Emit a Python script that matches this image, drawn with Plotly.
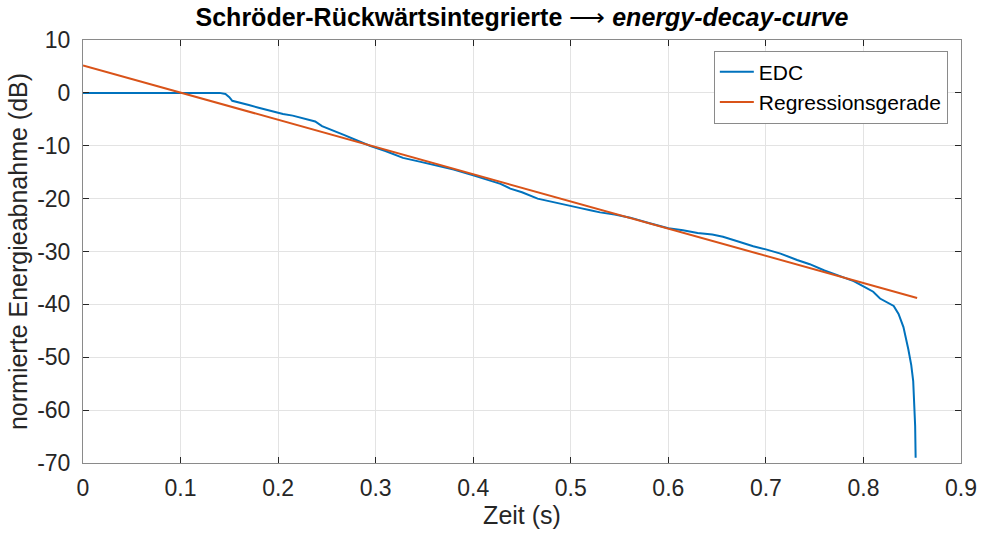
import plotly.graph_objects as go

# Schröder backward-integrated energy decay curve (EDC)
t_edc = [0, 0.140, 0.146, 0.150, 0.153, 0.160, 0.170, 0.180, 0.195, 0.205, 0.215,
         0.230, 0.238, 0.245, 0.255, 0.268, 0.281, 0.294, 0.310, 0.328, 0.345,
         0.360, 0.380, 0.400, 0.415, 0.428, 0.438, 0.450, 0.466, 0.480, 0.500,
         0.510, 0.520, 0.530, 0.545, 0.561, 0.580, 0.600, 0.615, 0.630, 0.645,
         0.656, 0.670, 0.687, 0.700, 0.715, 0.732, 0.745, 0.760, 0.775, 0.790,
         0.800, 0.810, 0.817, 0.824, 0.831, 0.836, 0.841, 0.846, 0.849, 0.851,
         0.852, 0.853, 0.8535]
edc_db = [0, 0, -0.2, -0.8, -1.5, -1.8, -2.3, -2.8, -3.6, -4.0, -4.3,
          -5.0, -5.4, -6.3, -7.1, -8.0, -9.0, -10.0, -11.0, -12.3, -13.0,
          -13.6, -14.5, -15.6, -16.5, -17.2, -18.1, -18.8, -20.0, -20.6, -21.5,
          -21.8, -22.2, -22.6, -23.0, -23.6, -24.6, -25.6, -26.0, -26.5, -26.8,
          -27.2, -28.0, -29.0, -29.6, -30.4, -31.6, -32.4, -33.6, -34.6, -35.6,
          -36.6, -37.6, -38.9, -39.6, -40.3, -41.8, -44.3, -48.5, -51.5, -54.5,
          -58.0, -63.0, -69.0]

# Linear regression fit (end points)
t_reg = [0.0, 0.855]
reg_db = [5.2, -38.8]

x_ticks = [0, 0.1, 0.2, 0.3, 0.4, 0.5, 0.6, 0.7, 0.8, 0.9]
x_labels = ["0", "0.1", "0.2", "0.3", "0.4", "0.5", "0.6", "0.7", "0.8", "0.9"]
y_ticks = [10, 0, -10, -20, -30, -40, -50, -60, -70]
y_labels = ["10", "0", "-10", "-20", "-30", "-40", "-50", "-60", "-70"]

FONT = "Liberation Sans, Arial, sans-serif"
AX = "#262626"
GRID = "#e3e3e3"

fig = go.Figure()
fig.add_trace(go.Scatter(x=t_edc, y=edc_db, mode="lines", name="EDC",
                         line=dict(color="#0072BD", width=2)))
fig.add_trace(go.Scatter(x=t_reg, y=reg_db, mode="lines", name="Regressionsgerade",
                         line=dict(color="#D95319", width=2)))

axis_common = dict(showline=True, linecolor="#8a8a8a", linewidth=1, mirror="ticks",
                   ticks="inside", ticklen=6, tickcolor=AX, showgrid=True,
                   gridcolor=GRID, gridwidth=1, zeroline=False, automargin=False,
                   tickfont=dict(family=FONT, size=23, color=AX))

fig.update_xaxes(range=[0, 0.9], tickvals=x_ticks, ticktext=x_labels,
                 ticklabelstandoff=4,
                 title=dict(text="Zeit (s)", font=dict(family=FONT, size=25, color=AX),
                            standoff=2),
                 **axis_common)
fig.update_yaxes(range=[-70, 10], tickvals=y_ticks, ticktext=y_labels,
                 ticklabelstandoff=7,
                 title=dict(text="normierte Energieabnahme (dB)",
                            font=dict(family=FONT, size=25, color=AX), standoff=2),
                 **axis_common)

fig.update_layout(
    width=981, height=535,
    margin=dict(l=83, r=20, t=40, b=72),
    paper_bgcolor="white", plot_bgcolor="white",
    title=dict(text="<b>Schröder-Rückwärtsintegrierte</b> ⟶ <b><i>energy-decay-curve</i></b>",
               x=0.5, xref="paper", xanchor="center", y=0.967, yref="container",
               yanchor="middle", pad=dict(t=0),
               font=dict(family=FONT, size=25, color="black")),
    legend=dict(x=0.985, y=0.975, xanchor="right", yanchor="top",
                bgcolor="white", bordercolor="#8a8a8a", borderwidth=1,
                font=dict(family=FONT, size=21, color="black"),
                itemwidth=34, tracegroupgap=0),
    showlegend=True,
)

fig.write_html("out.html")
